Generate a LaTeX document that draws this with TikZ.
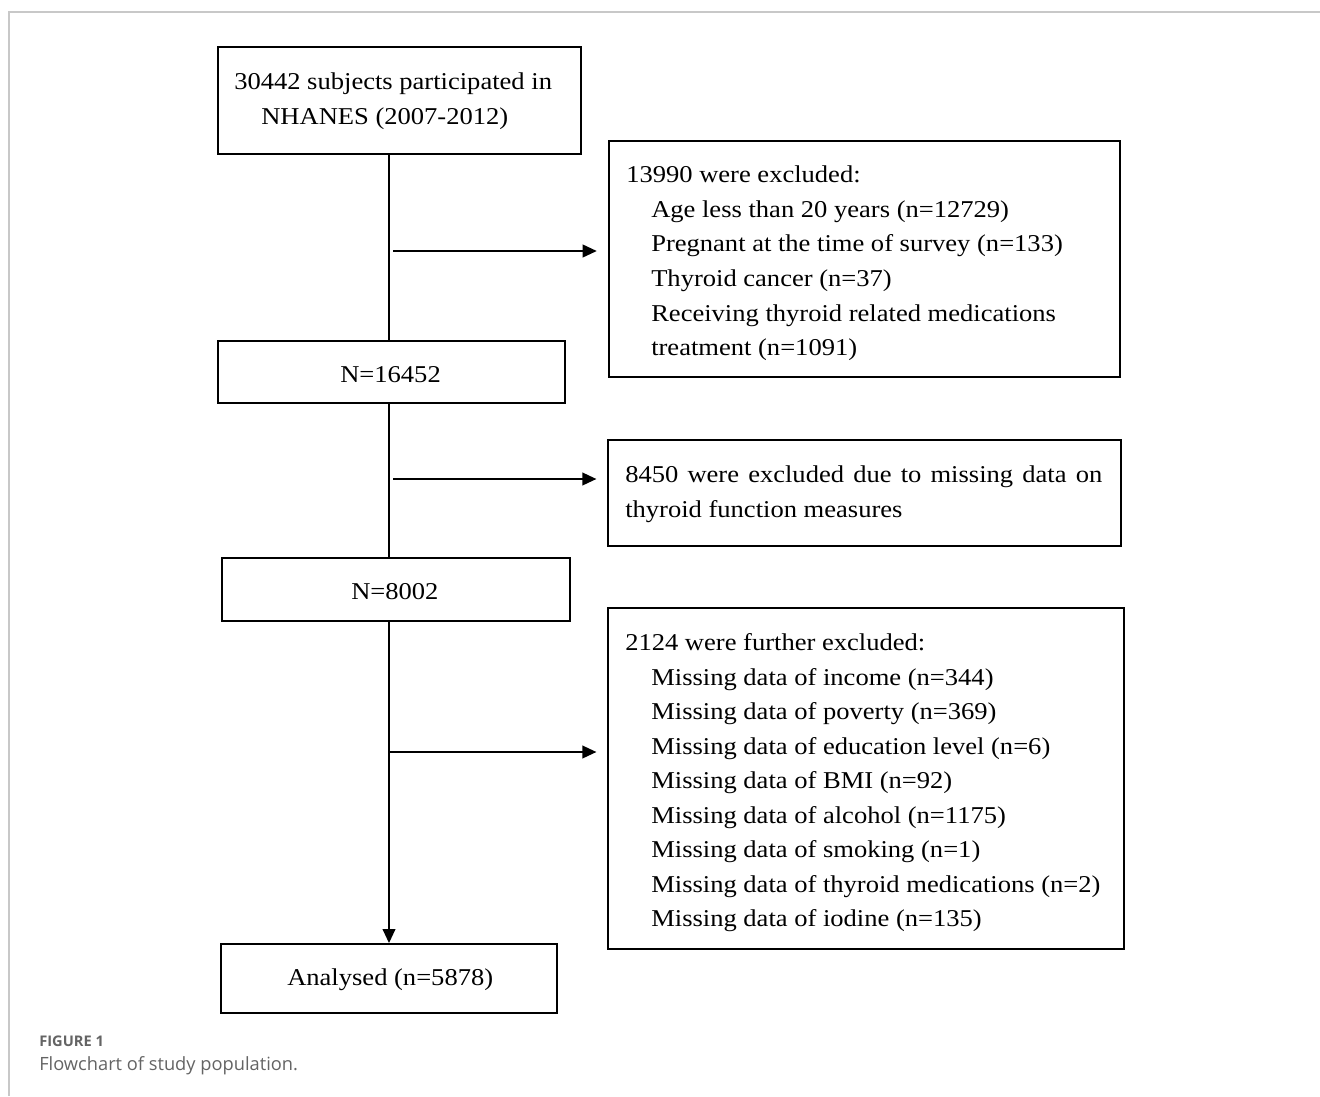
\documentclass[tikz,border=0pt]{standalone}
\usepackage{fontspec}
\setmainfont[FakeStretch=1.10]{Liberation Serif}
\newfontfamily\capfont{Open Sans}
\usetikzlibrary{arrows.meta}
\definecolor{framegray}{RGB}{200,200,200}
\definecolor{capgray}{RGB}{100,100,100}
\begin{document}
\begin{tikzpicture}[x=0.75pt,y=-0.75pt,
  box/.style={draw,line width=1.4pt,rectangle,inner sep=0},
  txt/.style={inner sep=0,anchor=base west,font=\fontsize{18.1}{21}\selectfont},
  conn/.style={line width=1.3pt},
  arr/.style={line width=1.3pt,-{Triangle[length=10.5pt,width=9.5pt]}}]
\useasboundingbox (0,0) rectangle (1320,1096);
\draw[line width=1.5pt,framegray] (9,1096) -- (9,12) -- (1320,12);

% boxes
\node[box,minimum width=272.25pt,minimum height=80.25pt] (b1) at (399.5,100.5) {};
\node[box,minimum width=260.25pt,minimum height=46.5pt] (b2) at (391.5,372) {};
\node[box,minimum width=261pt,minimum height=47.25pt] (b3) at (396,589.5) {};
\node[box,minimum width=252pt,minimum height=51.75pt] (b4) at (389,978.5) {};
\node[box,minimum width=383.25pt,minimum height=177pt] (e1) at (864.5,259) {};
\node[box,minimum width=384.75pt,minimum height=79.5pt] (e2) at (864.5,493) {};
\node[box,minimum width=387pt,minimum height=255.75pt] (e3) at (866,778.5) {};

% texts
\node[txt] (t1a) at (234,89) {30442 subjects participated in};
\node[txt] (t1b) at (261,124) {NHANES (2007-2012)};
\node[txt] (t2) at (340,382) {N=16452};
\node[txt] (t3) at (351,599) {N=8002};
\node[txt] (t4) at (287,985) {Analysed (n=5878)};

\node[txt] (e1h) at (626,182) {13990 were excluded:};
\node[txt] (e1a) at (651,217) {Age less than 20 years (n=12729)};
\node[txt] (e1b) at (651,251) {Pregnant at the time of survey (n=133)};
\node[txt] (e1c) at (651,286) {Thyroid cancer (n=37)};
\node[txt] (e1d) at (651,321) {Receiving thyroid related medications};
\node[txt] (e1e) at (651,355) {treatment (n=1091)};

\node[txt] (e2a) at (625,482) {\makebox[357.75pt][s]{8450 were excluded due to missing data on}};
\node[txt] (e2b) at (625,517) {thyroid function measures};

\node[txt] (e3h) at (625,650) {2124 were further excluded:};
\node[txt] (e3a) at (651,685) {Missing data of income (n=344)};
\node[txt] (e3b) at (651,719) {Missing data of poverty (n=369)};
\node[txt] (e3c) at (651,754) {Missing data of education level (n=6)};
\node[txt] (e3d) at (651,788) {Missing data of BMI (n=92)};
\node[txt] (e3e) at (651,823) {Missing data of alcohol (n=1175)};
\node[txt] (e3f) at (651,857) {Missing data of smoking (n=1)};
\node[txt] (e3g) at (651,892) {Missing data of thyroid medications (n=2)};
\node[txt] (e3i) at (651,926) {Missing data of iodine (n=135)};

% connectors
\draw[conn] (b1.south -| b4.north) -- (b2.north -| b4.north);
\draw[conn] (b2.south -| b4.north) -- (b3.north -| b4.north);
\draw[arr] (b3.south -| b4.north) -- (b4.north);

\coordinate (a1) at (393,251);
\coordinate (a2) at (393,479);
\coordinate (a3) at (389,752);
\draw[arr,shorten >=8.5pt] (a1) -- (a1 -| e1.west);
\draw[arr,shorten >=8pt] (a2) -- (a2 -| e2.west);
\draw[arr,shorten >=8pt] (a3) -- (a3 -| e3.west);

% caption
\node[inner sep=0,anchor=base west,text=capgray,font=\capfont\bfseries\fontsize{11}{13}\selectfont] (cap1) at (39,1046) {FIGURE 1};
\node[inner sep=0,anchor=base west,text=capgray,font=\capfont\fontsize{13.7}{16}\selectfont] (cap2) at (39,1070) {Flowchart of study population.};
\end{tikzpicture}
\end{document}
